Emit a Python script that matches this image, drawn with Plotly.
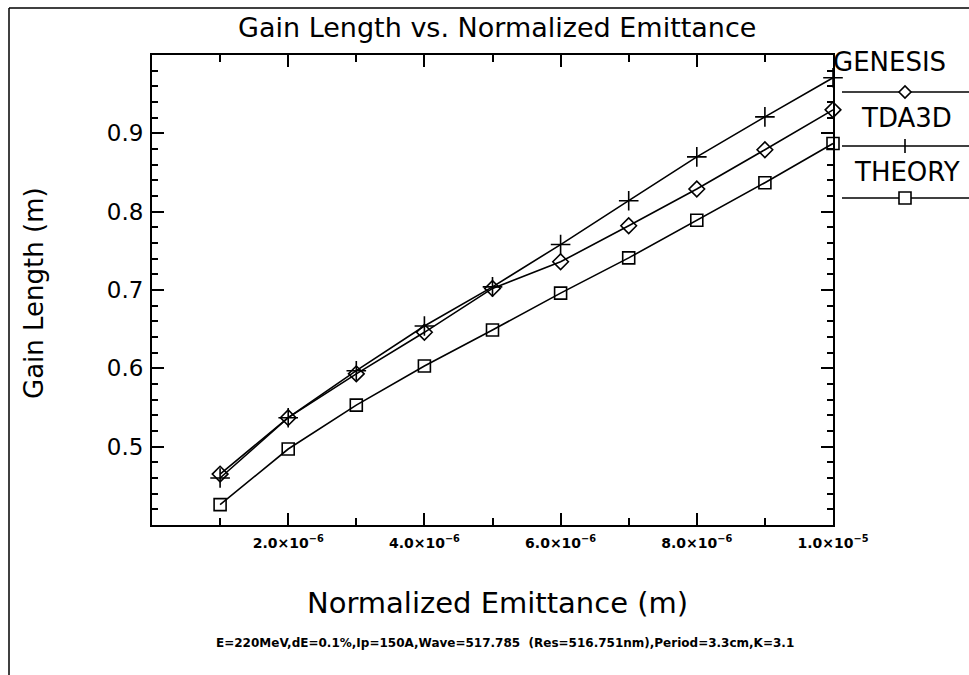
import plotly.graph_objects as go

# ---------------- data ----------------
emittance = [1e-6, 2e-6, 3e-6, 4e-6, 5e-6, 6e-6, 7e-6, 8e-6, 9e-6, 1e-5]
genesis = [0.465, 0.537, 0.593, 0.646, 0.702, 0.736, 0.782, 0.829, 0.879, 0.930]
tda3d = [0.460, 0.537, 0.597, 0.654, 0.704, 0.758, 0.814, 0.870, 0.921, 0.971]
theory = [0.426, 0.497, 0.553, 0.603, 0.649, 0.696, 0.741, 0.789, 0.837, 0.887]

x_tickvals = [2e-6, 4e-6, 6e-6, 8e-6, 1e-5]
x_ticktext = ["2.0×10<sup>−6</sup>", "4.0×10<sup>−6</sup>", "6.0×10<sup>−6</sup>",
              "8.0×10<sup>−6</sup>", "1.0×10<sup>−5</sup>"]
y_tickvals = [0.5, 0.6, 0.7, 0.8, 0.9]
y_ticktext = ["0.5", "0.6", "0.7", "0.8", "0.9"]

series_names = ["GENESIS", "TDA3D", "THEORY"]

# ---------------- layout geometry ----------------
W, H = 969, 675
L, R, T, B = 152, 833, 55, 525   # plot box in pixels
FONT = "DejaVu Sans"


def px(xp):
    return (xp - L) / (R - L)


def py(yp):
    return (B - yp) / (B - T)


fig = go.Figure()

common_line = dict(color="black", width=1.6)
fig.add_trace(go.Scatter(x=emittance, y=genesis, mode="lines+markers", name=series_names[0],
                         line=common_line, cliponaxis=False,
                         marker=dict(symbol="diamond-open", size=12, color="black",
                                     line=dict(width=1.6, color="black"))))
fig.add_trace(go.Scatter(x=emittance, y=tda3d, mode="lines+markers", name=series_names[1],
                         line=common_line, cliponaxis=False,
                         marker=dict(symbol="cross-thin-open", size=14, color="black",
                                     line=dict(width=1.6, color="black"))))
fig.add_trace(go.Scatter(x=emittance, y=theory, mode="lines+markers", name=series_names[2],
                         line=common_line, cliponaxis=False,
                         marker=dict(symbol="square-open", size=12, color="black",
                                     line=dict(width=1.6, color="black"))))

axis_common = dict(showgrid=False, zeroline=False, showline=True, linecolor="black",
                   linewidth=2, mirror="allticks", ticks="inside", tickcolor="black",
                   tickwidth=1.5, ticklen=12)

fig.update_xaxes(range=[0, 1e-5], tickmode="array", tickvals=x_tickvals, ticktext=x_ticktext,
                 tickfont=dict(family=FONT, size=14, color="black", weight="bold"),
                 ticklabelstandoff=4,
                 minor=dict(dtick=1e-6, tick0=0, ticks="inside", ticklen=7,
                            tickcolor="black", tickwidth=1.5),
                 **axis_common)
fig.update_yaxes(range=[0.4, 1.0], tickmode="array", tickvals=y_tickvals, ticktext=y_ticktext,
                 tickfont=dict(family=FONT, size=23, color="black"),
                 ticklabelstandoff=2,
                 minor=dict(dtick=0.02, tick0=0.4, ticks="inside", ticklen=6,
                            tickcolor="black", tickwidth=1.5),
                 **axis_common)

annotations = [
    dict(text="Gain Length vs. Normalized Emittance", x=px(497), y=py(28), xref="paper",
         yref="paper", showarrow=False, font=dict(family=FONT, size=27, color="black"),
         xanchor="center", yanchor="middle"),
    dict(text="Normalized Emittance (m)", x=px(498), y=py(603), xref="paper", yref="paper",
         showarrow=False, font=dict(family=FONT, size=29, color="black"),
         xanchor="center", yanchor="middle"),
    dict(text="Gain Length (m)", x=px(34), y=py(293), xref="paper", yref="paper",
         showarrow=False, textangle=-90, font=dict(family=FONT, size=26, color="black"),
         xanchor="center", yanchor="middle"),
    dict(text="E=220MeV,dE=0.1%,Ip=150A,Wave=517.785  (Res=516.751nm),Period=3.3cm,K=3.1",
         x=px(505), y=py(643), xref="paper", yref="paper", showarrow=False,
         font=dict(family=FONT, size=12, color="black", weight="bold"),
         xanchor="center", yanchor="middle"),
]

# custom legend: text above a line sample with the marker
legend_text_y = [62, 118, 172]
legend_text_x = [889, 906, 907]
legend_line_y = [92, 146, 198]
for name, tx, ty in zip(series_names, legend_text_x, legend_text_y):
    annotations.append(dict(text=name, x=px(tx), y=py(ty), xref="paper", yref="paper",
                            showarrow=False, font=dict(family=FONT, size=26, color="black"),
                            xanchor="center", yanchor="middle"))

shapes = []
for ly in legend_line_y:
    shapes.append(dict(type="line", xref="paper", yref="paper", x0=px(842), x1=px(969),
                       y0=py(ly), y1=py(ly), line=dict(color="black", width=1.6)))

cx = 905
# diamond sample
d = 6
y0 = legend_line_y[0]
shapes.append(dict(type="path", xref="paper", yref="paper",
                   path=f"M {px(cx-d)},{py(y0)} L {px(cx)},{py(y0-d)} L {px(cx+d)},{py(y0)} "
                        f"L {px(cx)},{py(y0+d)} Z",
                   line=dict(color="black", width=1.6), fillcolor="white"))
# plus sample
p = 7
y1 = legend_line_y[1]
shapes.append(dict(type="line", xref="paper", yref="paper", x0=px(cx), x1=px(cx),
                   y0=py(y1 - p), y1=py(y1 + p), line=dict(color="black", width=1.6)))
# square sample
s = 6
y2 = legend_line_y[2]
shapes.append(dict(type="rect", xref="paper", yref="paper", x0=px(cx - s), x1=px(cx + s),
                   y0=py(y2 - s), y1=py(y2 + s), line=dict(color="black", width=1.6),
                   fillcolor="white"))

# page border (top and left)
shapes.append(dict(type="line", xref="paper", yref="paper", x0=px(9), x1=px(969),
                   y0=py(8), y1=py(8), line=dict(color="black", width=1.5)))
shapes.append(dict(type="line", xref="paper", yref="paper", x0=px(9), x1=px(9),
                   y0=py(8), y1=py(675), line=dict(color="black", width=1.5)))

fig.update_layout(
    width=W, height=H, autosize=False,
    margin=dict(l=L, r=W - R, t=T, b=H - B, pad=0),
    paper_bgcolor="white", plot_bgcolor="white",
    showlegend=False,
    annotations=annotations, shapes=shapes,
    font=dict(family=FONT, color="black"),
)

fig.write_html("out.html", config={"displayModeBar": False},
               post_script="document.body.style.margin='0';"
                           "document.body.style.overflow='hidden';")
